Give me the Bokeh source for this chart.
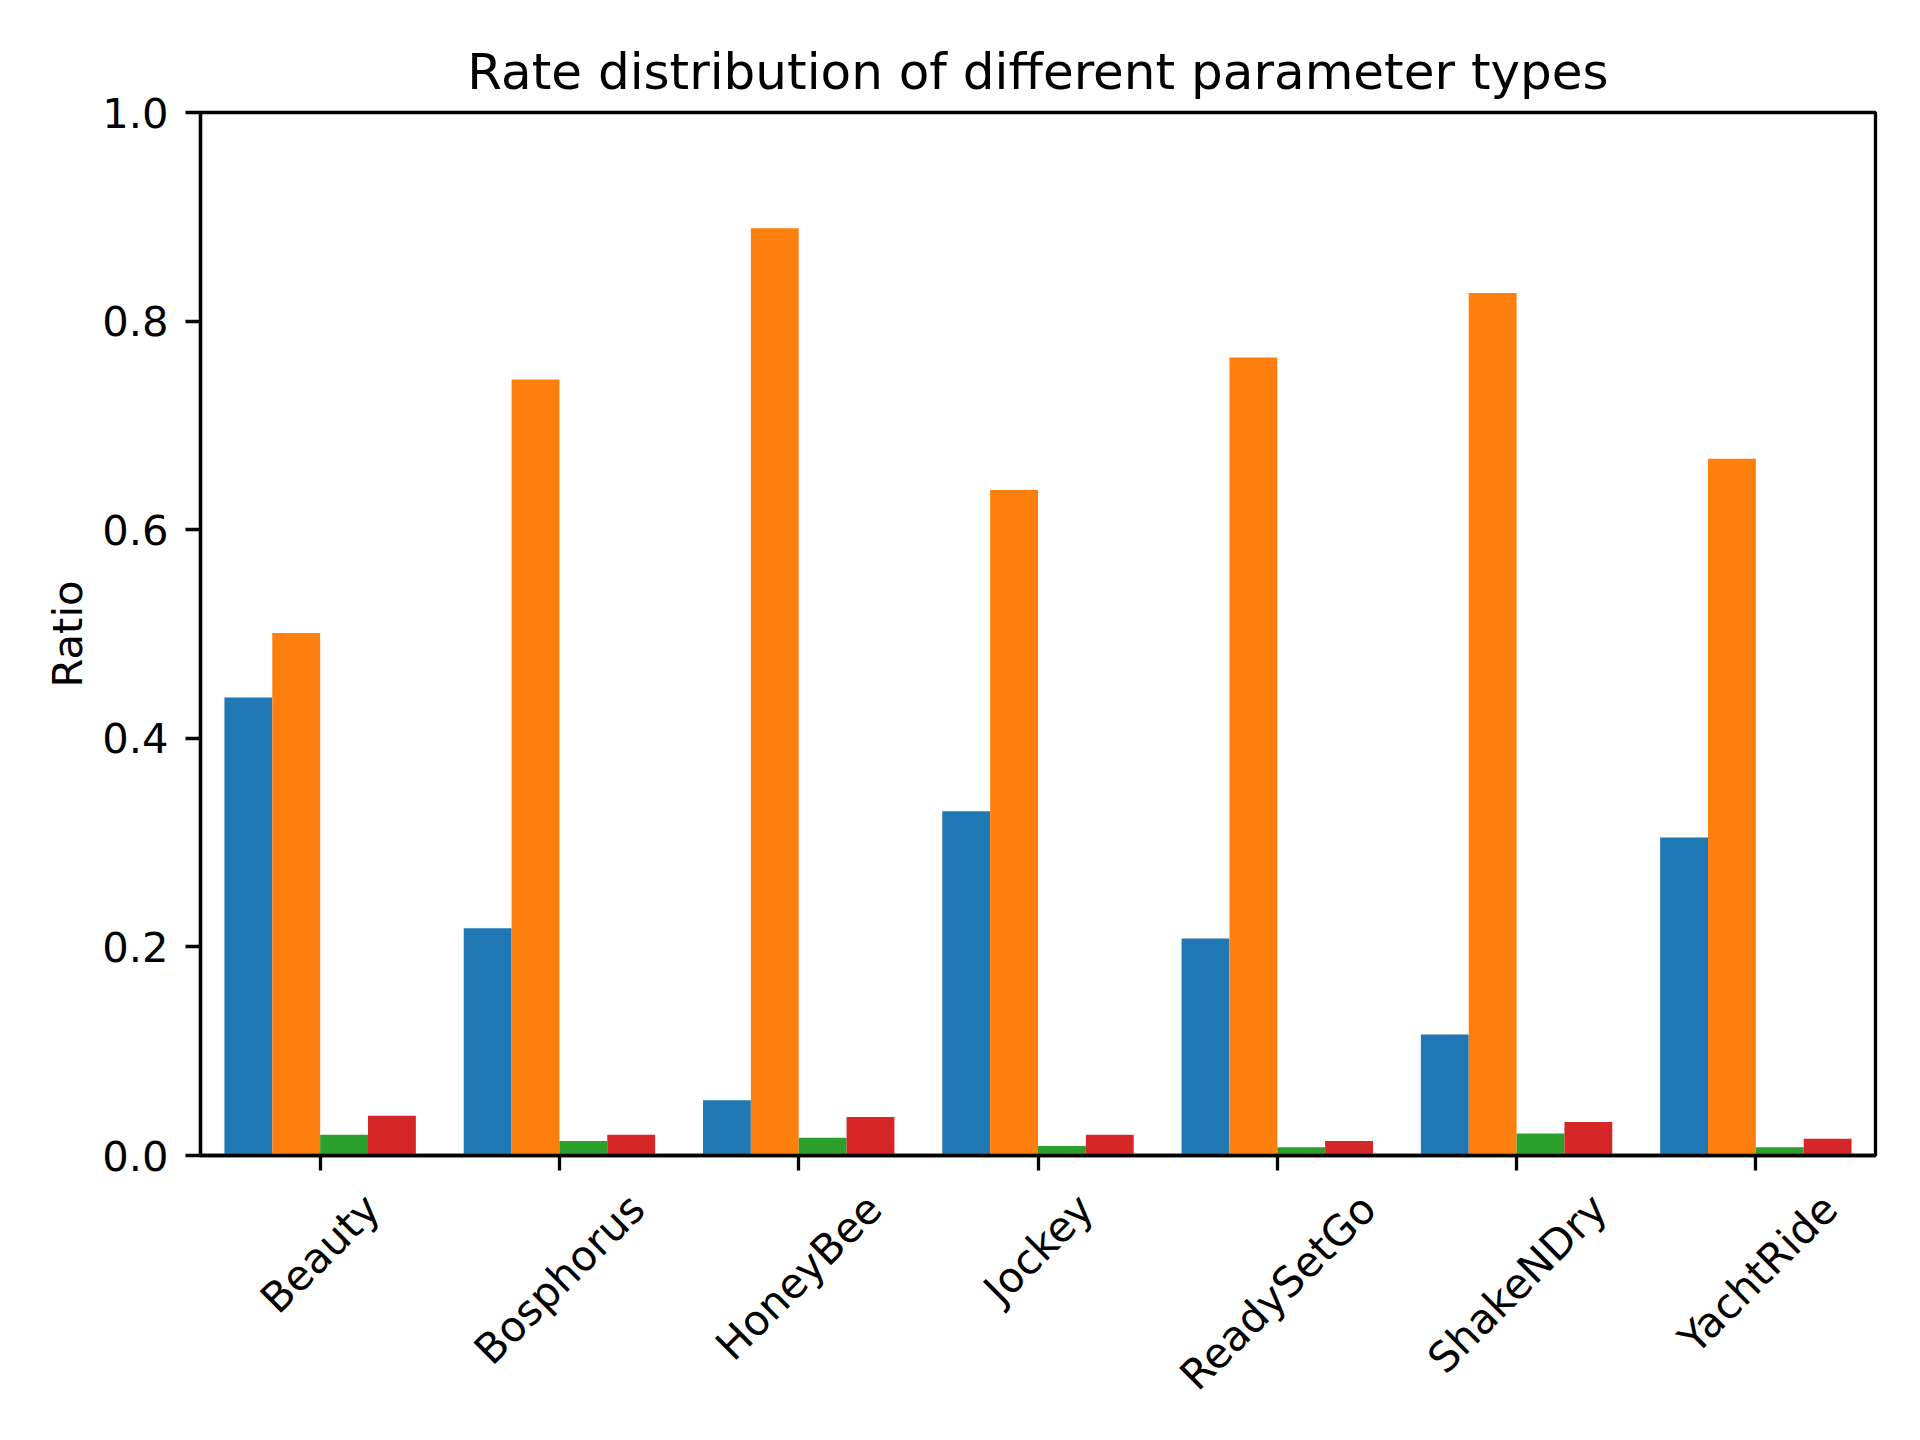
import math
from bokeh.plotting import figure
from bokeh.models import ColumnDataSource, FixedTicker, Range1d, PrintfTickFormatter
from bokeh.transform import dodge
from bokeh.embed import file_html
from bokeh.resources import INLINE

# ---------------- data ----------------
categories = ["Beauty", "Bosphorus", "HoneyBee", "Jockey", "ReadySetGo", "ShakeNDry", "YachtRide"]
series_1 = [0.439, 0.218, 0.053, 0.330, 0.208, 0.116, 0.305]   # blue
series_2 = [0.501, 0.744, 0.889, 0.638, 0.765, 0.827, 0.668]   # orange
series_3 = [0.020, 0.014, 0.017, 0.009, 0.008, 0.021, 0.008]   # green
series_4 = [0.038, 0.020, 0.037, 0.020, 0.014, 0.032, 0.016]   # red
y_ticks = [0.0, 0.2, 0.4, 0.6, 0.8, 1.0]
title_text = "Rate distribution of different parameter types"
y_label = "Ratio"

# ---------------- styles / layout ----------------
COLORS = ["#1f77b4", "#ff7f0e", "#2ca02c", "#d62728"]
FONT = "DejaVu Sans"
TICK_FS = 41.7
TITLE_FS = 50
BAR_W = 0.2
LW = 3.3
W, H = 1904, 1424
B_LEFT, B_RIGHT, B_TOP, B_BOTTOM = 200, 29, 112, 269

# approximate DejaVu Sans advance widths (units per 2048 em), used to place the
# rotated category labels centred on their ticks as matplotlib does
ADV = {"B": 1405, "e": 1260, "a": 1255, "u": 1298, "t": 803, "y": 1212, "o": 1253,
       "s": 1067, "p": 1300, "h": 1298, "r": 842, "H": 1540, "n": 1298, "J": 604,
       "c": 1126, "k": 1186, "R": 1423, "d": 1300, "S": 1300, "G": 1577, "N": 1532,
       "D": 1577, "Y": 1251, "i": 569, "E": 1294}


def text_w(s):
    return sum(ADV.get(ch, 1250) for ch in s) / 2048.0 * TICK_FS


idx = list(range(len(categories)))
px_per_unit = (W - B_LEFT - B_RIGHT) / len(categories)
label_pos = [round(i + text_w(c) * math.cos(math.pi / 4) / 2 / px_per_unit, 4)
             for i, c in zip(idx, categories)]

src = ColumnDataSource(dict(x=idx, s1=series_1, s2=series_2, s3=series_3, s4=series_4))

p = figure(width=W, height=H, output_backend="svg", toolbar_location=None,
           x_range=Range1d(-0.5, len(categories) - 0.5), y_range=Range1d(0, 1),
           min_border_left=B_LEFT, min_border_right=B_RIGHT, min_border_top=B_TOP,
           min_border_bottom=B_BOTTOM, title=title_text)

p.background_fill_color = "white"
p.border_fill_color = "white"
p.xgrid.visible = False
p.ygrid.visible = False
p.outline_line_color = "black"
p.outline_line_width = LW

p.title.text_font = FONT
p.title.text_font_size = f"{TITLE_FS}px"
p.title.text_font_style = "normal"
p.title.text_color = "black"
p.title.align = "center"
p.title.standoff = 23

offsets = [-1.5 * BAR_W, -0.5 * BAR_W, 0.5 * BAR_W, 1.5 * BAR_W]
for col, off, colr in zip(["s1", "s2", "s3", "s4"], offsets, COLORS):
    p.vbar(x=dodge("x", off), top=col, bottom=0, width=BAR_W, source=src,
           fill_color=colr, line_color=None)

# y axis
p.yaxis.ticker = FixedTicker(ticks=y_ticks)
p.yaxis.formatter = PrintfTickFormatter(format="%.1f")
p.yaxis.major_label_text_font = FONT
p.yaxis.major_label_text_font_size = f"{TICK_FS}px"
p.yaxis.major_label_text_color = "black"
p.yaxis.major_tick_in = 0
p.yaxis.major_tick_out = 15
p.yaxis.major_tick_line_width = LW
p.yaxis.minor_tick_line_color = None
p.yaxis.axis_line_width = LW
p.yaxis.major_label_standoff = 17
p.yaxis.axis_label = y_label
p.yaxis.axis_label_text_font = FONT
p.yaxis.axis_label_text_font_size = f"{TICK_FS}px"
p.yaxis.axis_label_text_font_style = "normal"
p.yaxis.axis_label_text_color = "black"
p.yaxis.axis_label_standoff = 7

# x axis: visible tick marks are drawn as "minor" ticks at the category centres;
# the (invisible) major ticks carry the rotated labels, shifted so that each
# label is centred under its tick like matplotlib's rotation=45 labels
p.xaxis.ticker = FixedTicker(ticks=label_pos, minor_ticks=idx)
p.xaxis.major_label_overrides = {pos: c for pos, c in zip(label_pos, categories)}
p.xaxis.major_label_orientation = math.pi / 4
p.xaxis.major_label_text_font = FONT
p.xaxis.major_label_text_font_size = f"{TICK_FS}px"
p.xaxis.major_label_text_color = "black"
p.xaxis.major_label_standoff = 31
p.xaxis.major_tick_in = 0
p.xaxis.major_tick_out = 0
p.xaxis.major_tick_line_color = None
p.xaxis.minor_tick_in = 0
p.xaxis.minor_tick_out = 15
p.xaxis.minor_tick_line_width = LW
p.xaxis.minor_tick_line_color = "black"
p.xaxis.axis_line_width = LW

open("out.html", "w").write(file_html(p, INLINE))
